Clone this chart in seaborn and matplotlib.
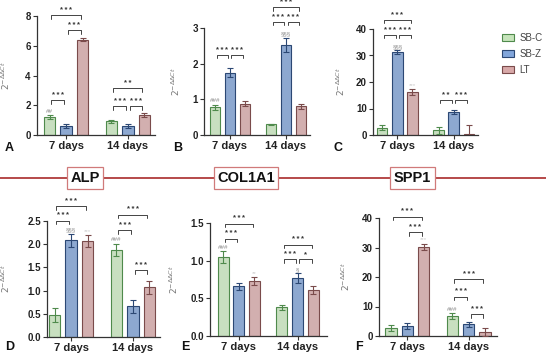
import matplotlib
matplotlib.use("Agg")
import matplotlib.pyplot as plt
import numpy as np
import pandas as pd
import seaborn as sns
from matplotlib.lines import Line2D
from matplotlib.patches import Rectangle

DAYS = ["7 days", "14 days"]
GROUPS = ["SB-C", "SB-Z", "LT"]
FACE = {"SB-C": "#c6e4bb", "SB-Z": "#82a6db", "LT": "#d8a9a9"}
EDGE = {"SB-C": "#4f8a4c", "SB-Z": "#2c4874", "LT": "#7a4b4b"}

# values ordered: 7 days (SB-C, SB-Z, LT), 14 days (SB-C, SB-Z, LT)
a_mean = [1.20, 0.62, 6.40, 0.92, 0.62, 1.33]
a_err = [0.14, 0.12, 0.10, 0.12, 0.15, 0.15]
b_mean = [0.78, 1.75, 0.87, 0.30, 2.53, 0.80]
b_err = [0.07, 0.13, 0.07, 0.02, 0.20, 0.06]
c_mean = [2.8, 31.2, 16.2, 1.7, 8.8, 0.3]
c_err = [1.0, 0.8, 1.0, 1.2, 0.8, 3.3]
d_mean = [0.48, 2.08, 2.06, 1.88, 0.66, 1.07]
d_err = [0.15, 0.14, 0.13, 0.13, 0.14, 0.14]
e_mean = [1.05, 0.66, 0.73, 0.38, 0.77, 0.61]
e_err = [0.08, 0.05, 0.05, 0.03, 0.06, 0.05]
f_mean = [2.8, 3.5, 30.3, 6.8, 3.9, 1.3]
f_err = [1.0, 1.0, 1.0, 1.0, 1.0, 1.3]

# brackets: (day, group i, group j, y, stars)
a_sig = [(0, 0, 1, 2.35, "***"), (0, 1, 2, 7.05, "***"), (0, 0, 2, 8.05, "***"),
         (1, 0, 1, 1.95, "***"), (1, 1, 2, 1.95, "***"), (1, 0, 2, 3.15, "**")]
b_sig = [(0, 0, 1, 2.24, "***"), (0, 1, 2, 2.24, "***"),
         (1, 0, 1, 3.17, "***"), (1, 1, 2, 3.17, "***"), (1, 0, 2, 3.58, "***")]
c_sig = [(0, 0, 1, 37.8, "***"), (0, 1, 2, 37.8, "***"), (0, 0, 2, 43.3, "***"),
         (1, 0, 1, 13.2, "**"), (1, 1, 2, 13.2, "***")]
d_sig = [(0, 0, 1, 2.51, "***"), (0, 0, 2, 2.82, "***"),
         (1, 0, 1, 2.30, "***"), (1, 0, 2, 2.64, "***"), (1, 1, 2, 1.44, "***")]
e_sig = [(0, 0, 1, 1.29, "***"), (0, 0, 2, 1.49, "***"),
         (1, 0, 1, 1.02, "***"), (1, 1, 2, 1.02, "*"), (1, 0, 2, 1.21, "***")]
f_sig = [(0, 1, 2, 35.2, "***"), (0, 0, 2, 40.4, "***"),
         (1, 0, 1, 13.3, "***"), (1, 0, 2, 19.3, "***"), (1, 1, 2, 7.3, "***")]

# marks above bars: (day, group, text, faint)
a_marks = [(0, 0, "##", False)]
b_marks = [(0, 0, "###", False), (1, 1, "§§§", False)]
c_marks = [(0, 1, "§§§", False), (0, 2, "***", True)]
d_marks = [(0, 1, "§§§", False), (0, 2, "***", True), (1, 0, "###", False)]
e_marks = [(0, 0, "###", False), (0, 2, "**", True), (1, 1, "§", False)]
f_marks = [(0, 2, "***", True), (1, 0, "###", False)]

W, H = 546, 358
sns.set_theme(style="ticks")
plt.rcParams["font.family"] = ["Liberation Sans", "DejaVu Sans"]

fig = plt.figure(figsize=(W / 100, H / 100), dpi=100)


def px_axes(left, right, top, bottom):
    return fig.add_axes([left / W, 1 - bottom / H, (right - left) / W, (bottom - top) / H])


def panel(box, mean, err, sig, marks, ymax, yticks, yfmt, xlim, letter, letter_xy, ylab_x):
    ax = px_axes(*box)
    df = pd.DataFrame({
        "day": np.repeat(DAYS, 3),
        "group": GROUPS * 2,
        "value": mean,
    })
    sns.barplot(data=df, x="day", y="value", hue="group", order=DAYS, hue_order=GROUPS,
                palette=FACE, gap=0.3, width=0.8, errorbar=None, legend=False,
                linewidth=0.8, ax=ax)
    for bar, g in zip(ax.patches, [g for g in GROUPS for _ in DAYS]):
        bar.set_edgecolor(EDGE[g])
    step = 0.8 / 3
    xs = [d + (g - 1) * step for d in range(2) for g in range(3)]
    for k, x in enumerate(xs):
        g = GROUPS[k % 3]
        ax.errorbar(x, mean[k], yerr=err[k], color=EDGE[g], capsize=2.2,
                    elinewidth=0.8, capthick=0.8, zorder=3)
    ax.set_ylim(0, ymax)
    ax.set_xlim(*xlim)
    ax.set_yticks(yticks)
    ax.set_yticklabels([yfmt.format(t) for t in yticks])
    ax.set_xlabel("")
    ax.set_ylabel(r"$2^{-\Delta\Delta Ct}$", fontsize=6.5, color="#777777")
    ax.yaxis.set_label_coords(ylab_x / W, 1 - (box[2] + box[3]) / 2 / H,
                              transform=fig.transFigure)
    for s in ["top", "right"]:
        ax.spines[s].set_visible(False)
    for s in ["left", "bottom"]:
        ax.spines[s].set_color("#333333")
        ax.spines[s].set_linewidth(0.9)
    ax.tick_params(length=3, width=0.8, color="#333333", labelsize=7, pad=1.5)
    for lab in ax.get_xticklabels() + ax.get_yticklabels():
        lab.set_fontweight("bold")
        lab.set_color("#222222")
    ax.tick_params(axis="x", labelsize=8)

    tick = 0.03 * ymax
    for d, i, j, y, stars in sig:
        x0 = d + (i - 1) * step + 0.03
        x1 = d + (j - 1) * step - 0.03
        ax.plot([x0, x0, x1, x1], [y - tick, y, y, y - tick], color="#444444",
                lw=0.7, clip_on=False)
        ax.text((x0 + x1) / 2, y + 0.012 * ymax, "\u2009".join(stars), ha="center",
                va="bottom", fontsize=5.5, fontweight="bold", color="#333333")
    for d, g, txt, faint in marks:
        k = d * 3 + g
        x = d + (g - 1) * step
        ax.text(x, mean[k] + err[k] + 0.012 * ymax, txt, ha="center", va="bottom",
                fontsize=4.5, color="#cccccc" if faint else "#888888")
    fig.text(letter_xy[0] / W, 1 - letter_xy[1] / H, letter, fontsize=9,
             fontweight="bold", ha="left", va="center", color="#111111")
    return ax


panel((37, 155, 16, 135), a_mean, a_err, a_sig, a_marks, 8, [0, 2, 4, 6, 8], "{:g}",
      (-0.47, 1.44), "A", (5, 148), 12)
panel((204, 310, 28, 135), b_mean, b_err, b_sig, b_marks, 3, [0, 1, 2, 3], "{:g}",
      (-0.46, 1.43), "B", (173, 148), 182)
panel((373, 478, 29, 135), c_mean, c_err, c_sig, c_marks, 40, [0, 10, 20, 30, 40], "{:g}",
      (-0.43, 1.43), "C", (333, 148), 347)
panel((47, 160, 221, 337), d_mean, d_err, d_sig, d_marks, 2.5,
      [0, 0.5, 1.0, 1.5, 2.0, 2.5], "{:.1f}", (-0.39, 1.44), "D", (5, 347), 12)
panel((210, 327, 223, 336), e_mean, e_err, e_sig, e_marks, 1.5, [0, 0.5, 1.0, 1.5], "{:.1f}",
      (-0.49, 1.5), "E", (181, 347), 180)
panel((379, 497, 218, 336), f_mean, f_err, f_sig, f_marks, 40, [0, 10, 20, 30, 40], "{:g}",
      (-0.46, 1.46), "F", (355, 347), 352)

# divider line and gene titles
fig.add_artist(Line2D([0, 1], [1 - 178 / H] * 2, transform=fig.transFigure,
                      color="#b03a3a", lw=1.3, zorder=0))
for name, xc in [("ALP", 85), ("COL1A1", 246), ("SPP1", 412.5)]:
    fig.text(xc / W, 1 - 178 / H, name, ha="center", va="center", fontsize=10.5,
             fontweight="bold", color="#111111", zorder=5,
             bbox=dict(boxstyle="square,pad=0.25", facecolor="white",
                       edgecolor="#d07a7a", linewidth=0.9))

handles = [Rectangle((0, 0), 1, 1, facecolor=FACE[g], edgecolor=EDGE[g], linewidth=0.8)
           for g in GROUPS]
fig.legend(handles, GROUPS, loc="upper left", bbox_to_anchor=(496 / W, 1 - 27 / H),
           frameon=False, fontsize=7, handlelength=1.3, handleheight=0.7,
           labelspacing=0.6, handletextpad=0.5, borderaxespad=0.2,
           labelcolor="#444444")

fig.savefig("out.png", dpi=100)
